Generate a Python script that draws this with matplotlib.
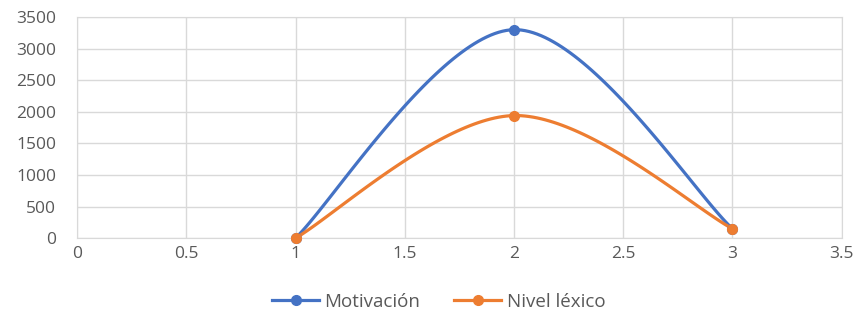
import matplotlib
matplotlib.use("Agg")
import matplotlib.pyplot as plt
import numpy as np

# datos
x_vals = [1, 2, 3]
motivacion = [0, 3300, 150]
nivel_lexico = [0, 1940, 150]
series = ["Motivación", "Nivel léxico"]
colores = ["#4472C4", "#ED7D31"]


def suavizar(xs, ys, n=60):
    """Curva suavizada estilo Excel (Bezier con tangentes Catmull-Rom)."""
    p = np.column_stack([xs, ys]).astype(float)
    ext = np.vstack([p[0], p, p[-1]])
    out = []
    for i in range(len(p) - 1):
        p0, p1, p2, p3 = ext[i], ext[i + 1], ext[i + 2], ext[i + 3]
        c1 = p1 + (p2 - p0) / 6
        c2 = p2 - (p3 - p1) / 6
        t = np.linspace(0, 1, n)[:, None]
        seg = ((1 - t) ** 3 * p1 + 3 * (1 - t) ** 2 * t * c1
               + 3 * (1 - t) * t ** 2 * c2 + t ** 3 * p2)
        out.append(seg if i == 0 else seg[1:])
    c = np.vstack(out)
    return c[:, 0], c[:, 1]


plt.rcParams["font.family"] = ["Open Sans", "DejaVu Sans"]

fig = plt.figure(figsize=(8.57, 3.10), dpi=100)
ax = fig.add_axes([0.090, 0.232, 0.892, 0.713])

for nombre, ys, col in zip(series, [motivacion, nivel_lexico], colores):
    sx, sy = suavizar(x_vals, ys)
    ax.plot(sx, sy, color=col, lw=2.3, zorder=3, clip_on=False)
    ax.plot(x_vals, ys, "o", color=col, ms=7, zorder=4, clip_on=False)
    ax.plot([], [], color=col, lw=2.3, marker="o", ms=7, label=nombre)

ax.set_xlim(0, 3.5)
ax.set_ylim(0, 3500)
ax.set_xticks(np.arange(0, 3.51, 0.5))
ax.set_xticklabels(["0", "0.5", "1", "1.5", "2", "2.5", "3", "3.5"])
ax.set_yticks(np.arange(0, 3501, 500))
ax.grid(color="#D9D9D9", lw=1)
ax.set_axisbelow(True)
for s in ax.spines.values():
    s.set_color("#D9D9D9")
ax.tick_params(length=0, colors="#595959", labelsize=12.5)
ax.tick_params(axis="y", pad=15)
ax.tick_params(axis="x", pad=6)

ax.legend(loc="upper center", bbox_to_anchor=(0.473, -0.17), ncol=2,
          frameon=False, fontsize=13.5, handlelength=2.5, handletextpad=0.3,
          columnspacing=1.8, labelcolor="#595959")

fig.savefig("out.png", dpi=100)
